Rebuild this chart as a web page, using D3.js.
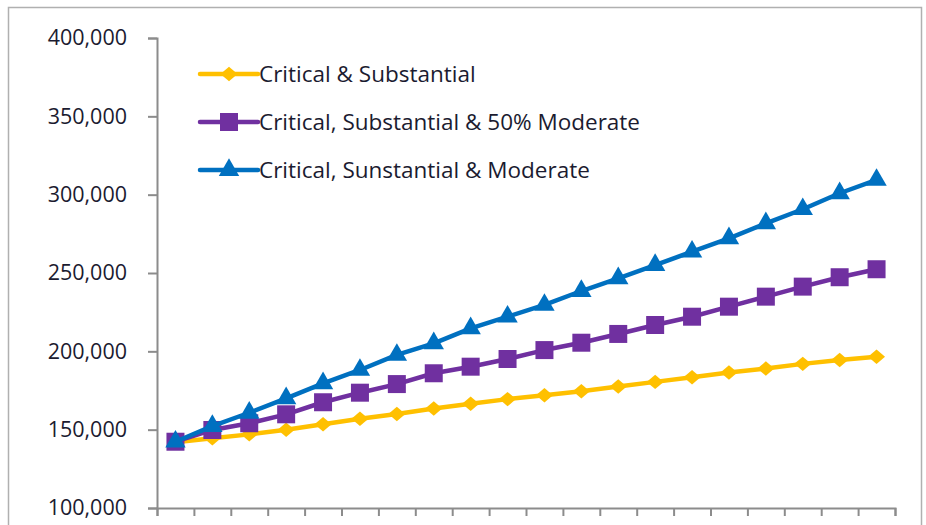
<!DOCTYPE html>
<html>
<head>
<meta charset="utf-8">
<script src="https://cdn.jsdelivr.net/npm/d3@7"></script>
<style>
  html, body { margin: 0; padding: 0; background: #fff; }
  svg { display: block; }
  text { font-family: "Open Sans", "Noto Sans", sans-serif; fill: #1b1b30; }
</style>
</head>
<body>
<svg id="chart" width="926" height="525"></svg>
<script>
// Period index (20 periods along the horizontal axis, unlabelled)
const periods = d3.range(1, 21);

// Series values
const criticalSubstantial = [142000, 144500, 147000, 150000, 153500, 157000, 160000, 163500, 166500, 169500,
                             172000, 174500, 177500, 180500, 183500, 186500, 189000, 192000, 194500, 196500];
const criticalSubstantialHalfModerate = [142300, 149800, 154100, 159800, 167500, 173600, 179100, 186000, 190200, 195100,
                                         200800, 205500, 211100, 216800, 222100, 228500, 234900, 241300, 247300, 252400];
const criticalSubstantialModerate = [142300, 152300, 160800, 170000, 179600, 188100, 197700, 205100, 214700, 222100,
                                     229600, 238500, 246600, 255100, 263600, 272100, 281700, 290700, 300900, 309400];

const seriesNames = ["Critical & Substantial", "Critical, Substantial & 50% Moderate", "Critical, Sunstantial & Moderate"];
const yTicks = [100000, 150000, 200000, 250000, 300000, 350000, 400000];

const series = [
  { name: seriesNames[0], values: criticalSubstantial, color: "#FFC000", marker: "diamond" },
  { name: seriesNames[1], values: criticalSubstantialHalfModerate, color: "#7030A0", marker: "square" },
  { name: seriesNames[2], values: criticalSubstantialModerate, color: "#0070C0", marker: "triangle" }
];

const svg = d3.select("#chart");

// Chart area frame
svg.append("rect")
  .attr("x", 8.5).attr("y", 7.5)
  .attr("width", 913).attr("height", 530)
  .attr("fill", "none").attr("stroke", "#b0b0b0").attr("stroke-width", 1.5);

const plot = { left: 157, right: 895, top: 38, bottom: 508 };

const x = d3.scaleBand().domain(periods).range([plot.left, plot.right]).padding(0);
const xEdge = d3.scaleLinear().domain([0, periods.length]).range([plot.left, plot.right]);
const y = d3.scaleLinear().domain([100000, 400000]).range([plot.bottom, plot.top]);

// Y axis
const yAxis = svg.append("g")
  .attr("transform", `translate(${plot.left},0)`)
  .call(d3.axisLeft(y).tickValues(yTicks).tickSize(9).tickPadding(21)
        .tickFormat(d3.format(",")));
yAxis.select(".domain").attr("stroke", "#8c8c8c").attr("stroke-width", 2);
yAxis.selectAll(".tick line").attr("stroke", "#8c8c8c").attr("stroke-width", 2);
yAxis.selectAll(".tick text")
  .attr("font-size", 21.5)
  .style("font-family", "\"Open Sans\", sans-serif")
  .attr("fill", "#1b1b30");

// X axis (tick marks at period boundaries)
const xAxis = svg.append("g")
  .attr("transform", `translate(0,${plot.bottom})`)
  .call(d3.axisBottom(xEdge).tickValues(d3.range(0, periods.length + 1)).tickSize(8).tickFormat(""));
xAxis.select(".domain").attr("stroke", "#8c8c8c").attr("stroke-width", 2);
xAxis.selectAll(".tick line").attr("stroke", "#8c8c8c").attr("stroke-width", 2);

const cx = d => x(d) + x.bandwidth() / 2;

const markerPath = {
  diamond: d3.symbol().type(d3.symbolSquare).size(144)(),
  square: d3.symbol().type(d3.symbolSquare).size(324)(),
  triangle: d3.symbol().type(d3.symbolTriangle).size(180)()
};
const markerShape = {
  diamond: "scale(1,0.85) rotate(45)",
  square: "",
  triangle: ""
};

const line = d3.line()
  .x((d, i) => cx(periods[i]))
  .y(d => y(d));

series.forEach(s => {
  const g = svg.append("g");
  g.append("path")
    .datum(s.values)
    .attr("d", line)
    .attr("fill", "none")
    .attr("stroke", s.color)
    .attr("stroke-width", 4.5)
    .attr("stroke-linejoin", "round");
  g.selectAll("path.mk")
    .data(s.values)
    .join("path")
    .attr("class", "mk")
    .attr("d", markerPath[s.marker])
    .attr("transform", (d, i) => `translate(${cx(periods[i])},${y(d)}) ${markerShape[s.marker]}`)
    .attr("fill", s.color);
});

// Legend
const legendY = [74, 122, 170];
const legend = svg.append("g");
series.forEach((s, i) => {
  const g = legend.append("g").attr("transform", `translate(0,${legendY[i]})`);
  g.append("line")
    .attr("x1", 200).attr("x2", 258).attr("y1", 0).attr("y2", 0)
    .attr("stroke", s.color).attr("stroke-width", 4.5).attr("stroke-linecap", "round");
  g.append("path")
    .attr("d", markerPath[s.marker])
    .attr("transform", `translate(229,0) ${markerShape[s.marker]}`)
    .attr("fill", s.color);
  g.append("text")
    .attr("x", 259).attr("y", 0).attr("dy", "0.35em")
    .attr("font-size", 22.5)
    .text(s.name);
});
</script>
</body>
</html>
